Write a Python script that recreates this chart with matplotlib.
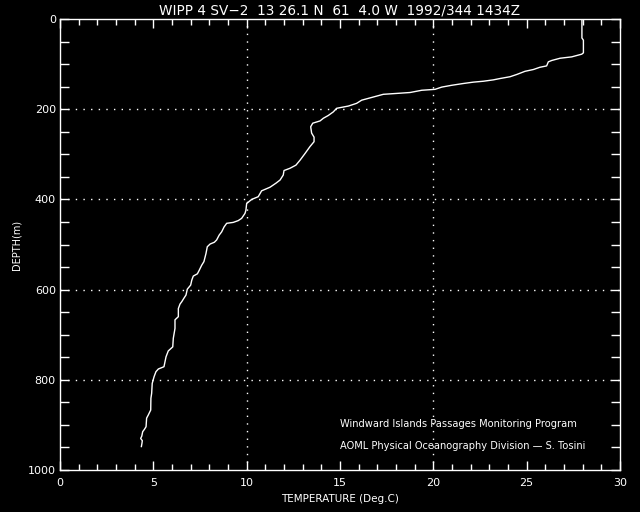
import matplotlib
matplotlib.use("Agg")
import matplotlib.pyplot as plt
from matplotlib.ticker import MultipleLocator

title = "WIPP 4 SV\u22122  13 26.1 N  61  4.0 W  1992/344 1434Z"
note1 = "Windward Islands Passages Monitoring Program"
note2 = "AOML Physical Oceanography Division \u2014 S. Tosini"

temperature = [27.96, 27.96, 28.04, 28.04, 27.95, 27.41, 26.79, 26.34, 26.16, 26.07, 25.71,
               25.36, 24.91, 24.47, 24.11, 23.57, 23.21, 22.68, 22.14, 21.61, 20.98,
               20.45, 20.09, 19.38, 18.75, 18.04, 17.32, 17.14, 16.16, 15.89, 15.45,
               14.82, 14.64, 14.37, 14.11, 13.93, 13.54, 13.43, 13.48, 13.61, 13.61,
               13.39, 13.13, 12.86, 12.64, 12.32, 12.00, 11.96, 11.79, 11.57, 11.25,
               10.80, 10.62, 10.27, 10.00, 9.96, 9.91, 9.73, 9.55, 9.28, 8.93, 8.79,
               8.66, 8.53, 8.39, 8.27, 8.04, 7.89, 7.82, 7.71, 7.59, 7.46, 7.36, 7.14,
               7.06, 7.00, 6.82, 6.75, 6.64, 6.52, 6.43, 6.34, 6.34, 6.16, 6.16, 6.07,
               6.04, 5.80, 5.68, 5.57, 5.27, 5.14, 5.04, 4.94, 4.91, 4.87, 4.86, 4.73,
               4.64, 4.61, 4.52, 4.43, 4.38, 4.32, 4.41, 4.39, 4.36]
depth = [0, 42, 47, 75, 78, 84, 87, 92, 95, 104, 107,
         112, 116, 123, 128, 132, 135, 138, 140, 143, 147,
         151, 156, 158, 163, 165, 167, 169, 180, 187, 193,
         198, 206, 214, 220, 226, 231, 239, 253, 262, 272,
         283, 298, 313, 324, 331, 336, 346, 357, 364, 373,
         381, 394, 400, 409, 424, 431, 442, 447, 451, 453, 461,
         472, 479, 490, 495, 499, 505, 520, 538, 546, 557, 565, 570,
         579, 590, 599, 612, 619, 627, 632, 642, 660, 667, 686, 708,
         727, 736, 749, 771, 776, 782, 793, 808, 830, 841, 867, 878,
         885, 904, 910, 915, 925, 930, 935, 941, 948]

fg = "white"
fig = plt.figure(figsize=(6.4, 5.12), dpi=100, facecolor="black")
ax = fig.add_axes([60/640, 1-470/512, 560/640, 451/512], facecolor="black")

ax.plot(temperature, depth, color=fg, lw=1.0, zorder=3)

ax.set_xlim(0, 30)
ax.set_ylim(1000, 0)
ax.xaxis.set_major_locator(MultipleLocator(5))
ax.xaxis.set_minor_locator(MultipleLocator(1))
ax.yaxis.set_major_locator(MultipleLocator(200))
ax.yaxis.set_minor_locator(MultipleLocator(50))

for s in ax.spines.values():
    s.set_color(fg)
    s.set_linewidth(1.0)

ax.tick_params(axis="x", which="major", direction="in", length=6.5, width=1, color=fg,
               top=True, bottom=True, labelcolor=fg, labelsize=8, pad=6)
ax.tick_params(axis="x", which="minor", direction="in", length=4.3, width=1, color=fg,
               top=True, bottom=True)
ax.tick_params(axis="y", which="both", direction="in", length=6.5, width=1, color=fg,
               left=True, right=True, labelcolor=fg, labelsize=8, pad=3)

for xv in [10, 20]:
    ax.axvline(xv, color=fg, lw=1.0, linestyle=(0, (1, 4.5)), zorder=1)
for yv in [200, 400, 600, 800]:
    ax.axhline(yv, color=fg, lw=1.0, linestyle=(0, (1, 4.5)), zorder=1)

ax.set_xlabel("TEMPERATURE (Deg.C)", color=fg, fontsize=7.5, labelpad=4)
ax.set_ylabel("DEPTH(m)", color=fg, fontsize=7)
ax.yaxis.set_label_coords((21-60)/560, 0.5)
fig.text(340/640, 1-10/512, title, color=fg, fontsize=9.8, ha="center", va="center")

ax.text(340/640, 1-424/512, note1, transform=fig.transFigure, color=fg, fontsize=7.1,
        ha="left", va="center")
ax.text(340/640, 1-446/512, note2, transform=fig.transFigure, color=fg, fontsize=7.1,
        ha="left", va="center")

fig.savefig("out.png", dpi=100, facecolor="black")
